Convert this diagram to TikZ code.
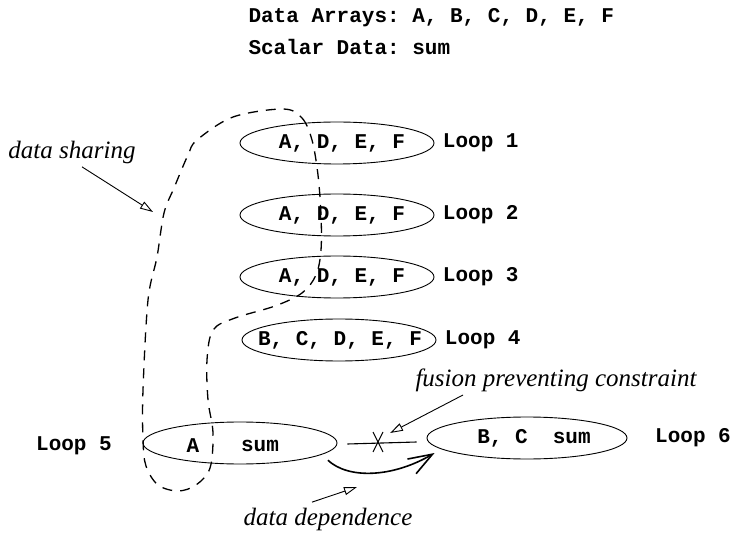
\documentclass[tikz,border=0pt]{standalone}
\usepackage{fontspec}
\setmainfont{Liberation Serif}
\setmonofont{Liberation Mono}
\usetikzlibrary{shapes.geometric, arrows.meta}

\begin{document}
\begin{tikzpicture}[x=1pt, y=-1pt,
            % Style for the loop ellipses, drawn empty
            loopbox/.style={draw, line width=0.9pt, ellipse, minimum width=194pt, minimum height=42pt, inner sep=0pt},
            % Style for the bold typewriter texts
            code/.style={font=\ttfamily\bfseries\fontsize{21}{24}\selectfont},
            % Style for the italic remarks
            remark/.style={font=\itshape\fontsize{25}{28}\selectfont},
            % Style for the arrows from the remarks
            pointer/.style={line width=0.9pt, -{Triangle[open, length=13pt, width=8pt]}}
        ]
        \useasboundingbox (0,0) rectangle (733,534);

        % --- Header ---
        \node[code, anchor=west] (arrays) at (245,18) {Data Arrays: A, B, C, D, E, F};
        \node[code, anchor=west] (scalars) at (245,47) {Scalar Data: sum};

        % --- Loops 1 to 4, one above the other ---
        \foreach \i/\x/\y/\dx/\arrays in {1/337/143/5/{A, D, E, F}, 2/337/215/5/{A, D, E, F}, 3/337/277/5/{A, D, E, F}, 4/339/340/1/{B, C, D, E, F}} {
            % Draw the ellipse first
            \node[loopbox] (loop\i) at (\x,\y) {};
            % Then the arrays used in the loop
            \node[code] (arrays\i) at ([xshift=\dx pt]loop\i.center) {\arrays};
            \node[code, anchor=west] (name\i) at ([xshift=5pt]loop\i.east) {Loop \i};
        }

        % --- Loop 5 and Loop 6 ---
        \node[loopbox] (loop5) at (240,443) {};
        \node[code] (a5) at (193,446) {A};
        \node[code] (sum5) at (260,446) {sum};
        \node[code] (name5) at (74,446) {Loop 5};
        \node[loopbox, minimum width=200pt] (loop6) at (527,438) {};
        \node[code] (arrays6) at (534,438) {B, C\ \ sum};
        \node[code] (name6) at (693,438) {Loop 6};

        % Data sharing between the loops
        \draw[line width=1.3pt, dash pattern=on 10pt off 8pt] plot[smooth cycle, tension=0.55] coordinates {
            (283,109) (302,118) (312,140) (318,175) (321,215) (321,250) (316,275) (302,293)
            (275,306) (235,318) (213,330) (207,360) (208,400) (213,433) (210,468) (196,485)
            (178,491) (158,485) (146,466) (143,440) (143,390) (148,300) (157,257) (164,213)
            (174,188) (188,155) (197,140) (233,117)};

        % Fusion preventing constraint between Loop 5 and Loop 6
        \draw[line width=1.1pt] ([xshift=10pt, yshift=-1pt]loop5.east) -- ([xshift=-10pt, yshift=-4pt]loop6.west);
        \node[inner sep=0pt] (cross) at (378,442) {};
        \draw[line width=1.1pt] (cross) ++(-5,-10) -- ++(10,20);
        \draw[line width=1.1pt] (cross) ++(5,-10) -- ++(-10,20);

        % Data dependence from Loop 5 to Loop 6
        \draw[line width=1.6pt, -{Straight Barb[length=24pt, width=17pt]}] ([shift={(0,8)}]loop5.-6) .. controls (348,479) and (392,478) .. ([shift={(8,15)}]loop6.west);

        % --- Remarks ---
        \node[remark] (sharing) at (72,152) {data sharing};
        \coordinate (sharetip) at (153,212);
        \draw[pointer] ([xshift=10pt]sharing.south) -- (sharetip);

        \node[remark] (fusion) at (556,380) {fusion preventing constraint};
        \coordinate (fusiontip) at (390,433);
        \draw[pointer] ([xshift=-93pt]fusion.south) -- (fusiontip);

        \node[remark] (depend) at (328,519) {data dependence};
        \coordinate (dependtip) at (357,487);
        \draw[pointer] ([xshift=-16pt, yshift=2pt]depend.north) -- (dependtip);

        \end{tikzpicture}
\end{document}
